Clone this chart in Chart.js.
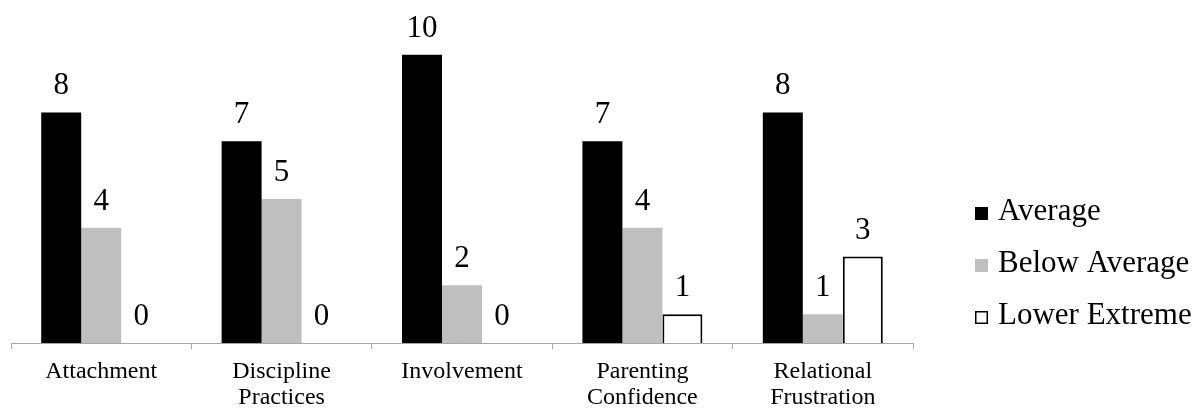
<!DOCTYPE html>
<html>
<head>
<meta charset="utf-8">
<script src="https://cdn.jsdelivr.net/npm/chart.js@4/dist/chart.umd.min.js"></script>
<style>
  html, body { margin: 0; padding: 0; background: #fff; }
  #wrap { width: 1199px; height: 408px; position: relative; }
</style>
</head>
<body>
<div id="wrap"><canvas id="c" width="1199" height="408"></canvas></div>
<script>
// Parenting scale scores by subscale
const categories = [
  'Attachment',
  ['Discipline', 'Practices'],
  'Involvement',
  ['Parenting', 'Confidence'],
  ['Relational', 'Frustration']
];
const seriesNames = ['Average', 'Below Average', 'Lower Extreme'];
const averageCounts = [8, 7, 10, 7, 8];
const belowAverageCounts = [4, 5, 2, 4, 1];
const lowerExtremeCounts = [0, 0, 0, 1, 3];

const SERIF = '"Liberation Serif", "Times New Roman", Times, serif';

// Value labels above each bar
const valueLabels = {
  id: 'valueLabels',
  afterDatasetsDraw(chart) {
    const ctx = chart.ctx;
    ctx.save();
    ctx.font = '31px ' + SERIF;
    ctx.fillStyle = '#000';
    ctx.textAlign = 'center';
    ctx.textBaseline = 'alphabetic';
    chart.data.datasets.forEach((ds, i) => {
      chart.getDatasetMeta(i).data.forEach((bar, j) => {
        ctx.fillText(String(ds.data[j]), bar.x, bar.y - 18);
      });
    });
    ctx.restore();
  }
};

// Legend stacked to the right of the plot
const sideLegend = {
  id: 'sideLegend',
  afterDraw(chart) {
    const ctx = chart.ctx;
    ctx.save();
    ctx.font = '31px ' + SERIF;
    ctx.textAlign = 'left';
    ctx.textBaseline = 'alphabetic';
    const x = 975, size = 13;
    chart.data.datasets.forEach((ds, i) => {
      const base = 220 + i * 52;
      ctx.fillStyle = ds.backgroundColor;
      ctx.fillRect(x, base - size, size, size);
      if (ds.borderWidth) {
        ctx.strokeStyle = ds.borderColor;
        ctx.lineWidth = 1.5;
        ctx.strokeRect(x + 0.75, base - size + 0.75, size - 1.5, size - 1.5);
      }
      ctx.fillStyle = '#000';
      ctx.fillText(ds.label, x + size + 10, base);
    });
    ctx.restore();
  }
};

new Chart(document.getElementById('c'), {
  type: 'bar',
  data: {
    labels: categories,
    datasets: [
      { label: seriesNames[0], data: averageCounts, backgroundColor: '#000000', borderWidth: 0 },
      { label: seriesNames[1], data: belowAverageCounts, backgroundColor: '#bfbfbf', borderWidth: 0 },
      { label: seriesNames[2], data: lowerExtremeCounts, backgroundColor: '#ffffff', borderColor: '#000000', borderWidth: 2 }
    ]
  },
  options: {
    responsive: false,
    animation: false,
    devicePixelRatio: 1,
    layout: { padding: { left: 11, right: 286, top: 26, bottom: 0 } },
    datasets: { bar: { barPercentage: 1.0, categoryPercentage: 0.665 } },
    plugins: { legend: { display: false }, tooltip: { enabled: false } },
    scales: {
      x: {
        border: { display: true, color: '#a6a6a6', width: 1 },
        grid: { display: true, drawOnChartArea: false, drawTicks: true, tickLength: 6, color: '#a6a6a6', offset: true },
        ticks: { color: '#000', font: { family: SERIF, size: 24, lineHeight: 1.08 }, padding: 10, maxRotation: 0, autoSkip: false },
        afterFit(scale) { scale.height = 65; }
      },
      y: {
        display: false,
        min: 0,
        max: 11
      }
    }
  },
  plugins: [valueLabels, sideLegend]
});
</script>
</body>
</html>
